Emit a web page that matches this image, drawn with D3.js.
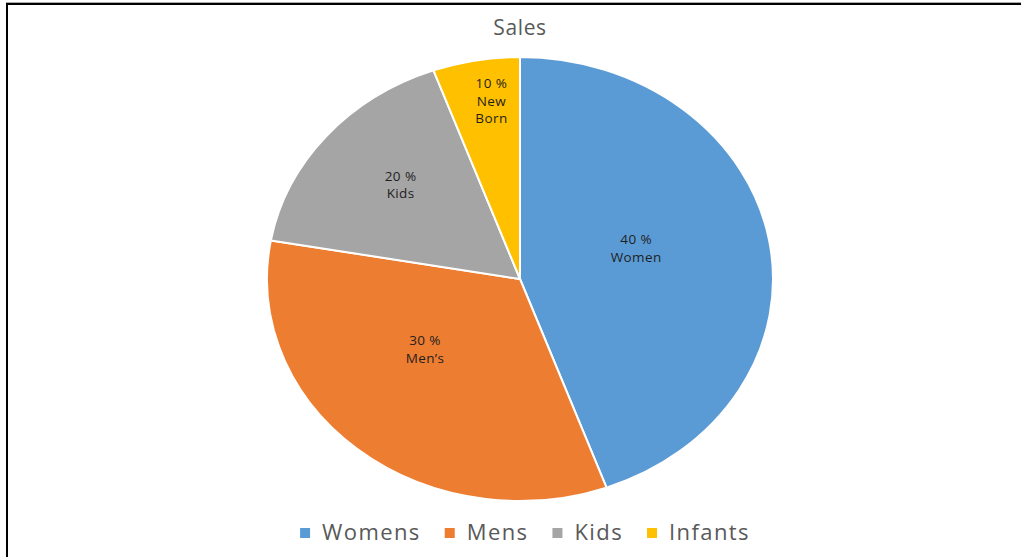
<!DOCTYPE html>
<html><head><meta charset="utf-8">
<script src="https://cdn.jsdelivr.net/npm/d3@7"></script>
<style>body{margin:0;background:#fff;}svg{display:block;}</style>
</head><body>
<svg id="c" width="1021" height="557"></svg>
<script>
const categories = ["Womens", "Mens", "Kids", "Infants"];
const values = [8, 6, 3, 1];
const labelPct = ["40 %", "30 %", "20 %", "10 %"];
const labelNames = [["Women"], ["Men\u2019s"], ["Kids"], ["New", "Born"]];
const colors = ["#5B9BD5", "#ED7D31", "#A5A5A5", "#FFC000"];
const labelRadius = [0.48, 0.49, 0.635, 0.81];
const labelAngleShift = [-7, 10, 2, 2];

const W = 1021, H = 557;
const cx = 520, cy = 279, rx = 253, ry = 222;
const font = "'Open Sans', sans-serif";
const svg = d3.select("#c");

// frame
svg.append("line").attr("x1", 7).attr("x2", 7).attr("y1", 2).attr("y2", H).attr("stroke", "#000").attr("stroke-width", 2);
svg.append("line").attr("x1", 6).attr("x2", W).attr("y1", 4).attr("y2", 4).attr("stroke", "#000").attr("stroke-width", 2);
svg.append("line").attr("x1", 6).attr("x2", W).attr("y1", 2.5).attr("y2", 2.5).attr("stroke", "#aaa").attr("stroke-width", 1);

svg.append("text").attr("x", cx).attr("y", 35).attr("text-anchor", "middle")
  .attr("font-family", font).attr("font-size", 21).attr("letter-spacing", 0.6)
  .attr("fill", "#595959").text("Sales");

const pie = d3.pie().sort(null).value(d => d)(values);
const arc = d3.arc().innerRadius(0).outerRadius(rx);
const g = svg.append("g").attr("transform", `translate(${cx},${cy}) scale(1,${ry / rx})`);
g.selectAll("path").data(pie).join("path")
  .attr("d", arc).attr("fill", (d, i) => colors[i])
  .attr("stroke", "#fff").attr("stroke-width", 2).attr("vector-effect", "non-scaling-stroke")
  .attr("stroke-linejoin", "round");

const lg = svg.append("g");
pie.forEach((d, i) => {
  const a = (d.startAngle + d.endAngle) / 2 + labelAngleShift[i] * Math.PI / 180;
  const r = labelRadius[i];
  const x = cx + Math.sin(a) * r * rx;
  const y = cy - Math.cos(a) * r * ry;
  const lines = [labelPct[i], ...labelNames[i]];
  const lh = 17.5;
  const y0 = y - (lines.length - 1) * lh / 2;
  const t = lg.append("text").attr("text-anchor", "middle").attr("font-family", font)
    .attr("font-size", 13.5).attr("letter-spacing", 0.4).attr("fill", "#1f1f1f");
  lines.forEach((s, k) => t.append("tspan").attr("x", x).attr("y", y0 + k * lh + 5).text(s));
});

// legend
const leg = svg.append("g").attr("font-family", font).attr("font-size", 22).attr("fill", "#595959");
const items = leg.selectAll("g").data(categories).join("g");
items.append("rect").attr("width", 10).attr("height", 10).attr("y", -12).attr("fill", (d, i) => colors[i]);
items.append("text").attr("x", 22).attr("y", 0).attr("letter-spacing", 1.4).text(d => d).attr("fill", "#595959");
const widths = [];
items.each(function () { widths.push(this.getBBox().width); });
const gap = 24;
const total = d3.sum(widths) + gap * (widths.length - 1);
let x0 = cx - total / 2 + 5;
items.attr("transform", (d, i) => { const tx = x0; x0 += widths[i] + gap; return `translate(${tx},${540})`; });
</script>
</body></html>
